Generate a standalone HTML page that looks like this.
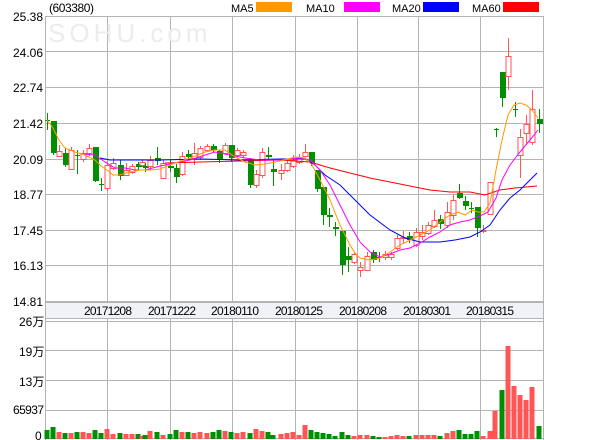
<!DOCTYPE html>
<html><head><meta charset="utf-8"><style>
html,body{margin:0;padding:0;background:#fff}
svg{display:block}
text{font-family:"Liberation Sans","Noto Sans CJK SC",sans-serif;font-size:12px;fill:#000}
.lg{font-size:11px}
</style></head><body>
<svg id="s" width="600" height="440" viewBox="0 0 600 440" xmlns="http://www.w3.org/2000/svg">
<rect width="600" height="440" fill="#fff"/>
<rect x="45" y="302" width="498" height="16" fill="#f1f2f7"/>
<g id="grid" stroke="#b4b4b4" stroke-width="1" fill="none"></g>
<text x="13" y="21" textLength="30">25.38</text>
<text x="13" y="57" textLength="30">24.06</text>
<text x="13" y="92" textLength="30">22.74</text>
<text x="13" y="128" textLength="30">21.42</text>
<text x="13" y="164" textLength="30">20.09</text>
<text x="13" y="199" textLength="30">18.77</text>
<text x="13" y="235" textLength="30">17.45</text>
<text x="13" y="270" textLength="30">16.13</text>
<text x="13" y="306" textLength="30">14.81</text>
<text x="84" y="315" textLength="48">20171208</text>
<text x="148" y="315" textLength="48">20171222</text>
<text x="211" y="315" textLength="48">20180110</text>
<text x="275" y="315" textLength="48">20180125</text>
<text x="339" y="315" textLength="48">20180208</text>
<text x="403" y="315" textLength="48">20180301</text>
<text x="466" y="315" textLength="48">20180315</text>
<text x="19" y="326">26万</text>
<text x="19" y="356">19万</text>
<text x="19" y="386">13万</text>
<text x="13" y="414" textLength="31">65937</text>
<text x="35" y="440">0</text>
<text x="49" y="12" textLength="45">(603380)</text>
<text x="231" y="12" class="lg">MA5</text><rect x="256" y="2" width="36" height="10" fill="#ff9900"/>
<text x="306" y="12" class="lg">MA10</text><rect x="344" y="2" width="36" height="10" fill="#ff00ff"/>
<text x="392" y="12" class="lg">MA20</text><rect x="423" y="2" width="36" height="10" fill="#0000ff"/>
<text x="472" y="12" class="lg">MA60</text><rect x="503" y="2" width="36" height="10" fill="#ff0000"/>
<text x="48" y="42" style="font-size:26px;fill:#ececec;letter-spacing:4px">SOHU.com</text>
<g id="c"></g>
</svg>
<script>
var ns="http://www.w3.org/2000/svg";
function el(p,t,a){var e=document.createElementNS(ns,t);for(var k in a)e.setAttribute(k,a[k]);p.appendChild(e);return e;}
var g=document.getElementById('grid'),c=document.getElementById('c');
[16,51,87,123,159,194,230,265,301].forEach(function(y){el(g,'line',{x1:45,x2:543,y1:y+.5,y2:y+.5});});
[321,350,380,410,438].forEach(function(y){el(g,'line',{x1:45,x2:543,y1:y+.5,y2:y+.5});});
[107,170,232,295,357,418,480].forEach(function(x){el(g,'line',{x1:x+.5,x2:x+.5,y1:16,y2:302});el(g,'line',{x1:x+.5,x2:x+.5,y1:318,y2:440});});
el(g,'line',{x1:45.5,x2:45.5,y1:16,y2:440});el(g,'line',{x1:543.5,x2:543.5,y1:16,y2:440});
el(g,'line',{x1:45,x2:543,y1:302.5,y2:302.5});el(g,'line',{x1:45,x2:543,y1:318.5,y2:318.5});
var K=[
[47,120,121,113,130,'g',9],[53,121,153,121,155,'g',12],[59,151,156,145,157,'r',7],[65,153,165,148,167,'g',6],[71,150,169,147,169,'r',6],
[77,155,156,150,174,'g',7],[83,153,159,150,162,'r',7],[89,148,153,144,156,'r',6],[95,147,181,147,182,'g',9],[101,184,185,178,191,'g',6],
[107,165,188,161,191,'r',10],[113,163,168,158,170,'r',5],[120,165,176,160,180,'g',6],[126,170,175,163,176,'r',5],[132,166,172,164,174,'r',5],
[138,164,167,162,170,'g',5],[142,162,165,160,167,'r',3],[145,166,168,163,172,'g',4],[150,160,166,156,170,'r',8],[157,158,161,147,165,'g',7],
[163,163,178,160,178,'r',4],[170,166,168,160,172,'g',5],[176,168,177,164,183,'g',9],[182,156,174,152,176,'r',7],[188,154,157,150,160,'g',7],
[194,153,158,143,165,'r',6],[200,148,157,146,160,'r',7],[207,146,150,144,152,'r',6],[213,146,150,144,153,'g',7],[219,151,160,150,163,'g',9],
[225,145,153,143,155,'r',8],[231,145,158,145,162,'g',7],[237,150,155,148,158,'r',6],[243,152,155,150,158,'r',7],[250,160,185,158,188,'g',6],
[256,174,185,170,188,'r',10],[262,152,175,148,178,'r',8],[268,155,157,147,160,'g',7],[273,169,172,160,186,'g',4],[281,170,173,164,180,'r',5],
[287,163,170,160,172,'r',6],[293,160,166,155,168,'r',7],[299,157,162,154,164,'r',4],[305,152,156,144,157,'r',14],[311,152,163,152,166,'g',9],
[317,170,189,170,192,'g',7],[323,187,215,187,225,'g',6],[329,215,217,208,227,'g',5],[335,227,229,222,236,'g',3],[342,231,265,231,275,'g',7],
[348,256,260,247,272,'g',4],[354,254,262,252,264,'r',3],[360,267,270,262,277,'r',4],[367,256,270,252,271,'r',4],[373,252,260,250,263,'g',3],
[379,257,258,252,262,'g',2],[385,254,257,251,260,'r',2],[391,254,257,252,260,'r',3],[397,238,248,235,250,'r',4],[403,237,238,231,243,'r',3],
[409,236,240,232,243,'g',3],[416,232,245,228,247,'r',4],[422,232,236,225,240,'r',4],[428,225,233,222,235,'r',4],[434,220,226,210,228,'r',4],
[440,219,224,215,229,'g',3],[447,212,225,202,228,'r',6],[453,200,215,195,220,'r',8],[459,193,198,184,199,'g',9],[465,201,206,196,210,'g',5],
[471,208,209,202,213,'g',5],[477,207,228,207,237,'g',8],[483,230,231,225,233,'r',3],[490,182,214,182,214,'r',8],[496,129,130,128,137,'g',0],
[495,129,130,128,137,'r',28],[502,72,98,72,107,'g',49],[508,56,76,38,90,'r',93],[515,109,110,102,117,'g',0],[514,109,110,102,117,'r',53],
[520,137,155,129,178,'r',44],[526,124,133,115,145,'r',39],[532,109,142,90,145,'r',52],[539,119,124,109,133,'g',13]];
var RED='#ff5555',GRN='#008f00';
K.forEach(function(k){
 var col=k[5]=='r'?RED:GRN,x=k[0];
 if(!(x==495&&k[6]==28)&&!(x==514))
 el(c,'line',{x1:x+.5,x2:x+.5,y1:k[3],y2:k[4],stroke:col,'stroke-width':1});
 if(x==495||x==514){}else if(k[5]=='r'){el(c,'rect',{x:x-2,y:k[1]+.5,width:5,height:Math.max(1,k[2]-k[1]),fill:'#fff',stroke:col,'stroke-width':1});}
 else{if(k[2]-k[1]<=1)el(c,'line',{x1:x-2,x2:x+3,y1:k[1]+.5,y2:k[1]+.5,stroke:col});else el(c,'rect',{x:x-2,y:k[1],width:6,height:k[2]-k[1],fill:col});}
 if(k[6]>0){var vc=col;if(x==495)vc=RED;if(x==502)vc=GRN;
  el(c,'rect',{x:x-2.5,y:439-k[6],width:5,height:k[6],fill:vc});}
});
function pl(pts,col){el(c,'polyline',{points:pts,fill:'none',stroke:col,'stroke-width':1});}
pl("165,163 200,162 240,161 280,160 310,162 330,168 350,173 370,178 390,182 410,186 430,190 450,192 470,192 485,195 500,190 515,188 537,186","#ff0000");
pl("100,158 110,160 130,160 160,160 200,159 240,160 280,159 305,159 315,165 325,175 340,185 355,200 370,215 390,230 405,238 420,242 440,242 455,240 470,237 480,232 490,225 500,210 510,198 520,190 530,180 537,173","#0000ff");
pl("83,154 95,155 105,162 115,168 125,168 135,170 145,170 160,166 175,163 190,160 205,155 215,152 230,155 245,158 260,160 280,160 300,158 310,160 320,170 330,185 340,205 350,225 360,242 370,252 380,257 390,254 400,250 410,248 420,243 430,237 440,232 450,225 460,222 470,220 480,216 488,212 496,198 502,180 510,165 520,152 530,140 538,130","#ff00ff");
pl("47,120 53,128 59,140 65,148 75,152 85,155 95,160 101,166 107,170 113,175 119,175 130,172 140,170 150,170 160,169 175,163 190,158 205,152 215,150 225,150 235,157 245,162 255,165 265,164 280,161 295,157 305,158 312,165 320,180 330,200 340,225 350,245 355,253 360,258 370,260 380,258 390,252 400,245 410,240 420,235 430,230 440,222 450,215 458,212 465,215 472,210 478,212 484,212 490,203 496,170 502,140 508,115 514,105 520,103 526,105 532,110 538,118","#ff9900");
</script>
</body></html>
